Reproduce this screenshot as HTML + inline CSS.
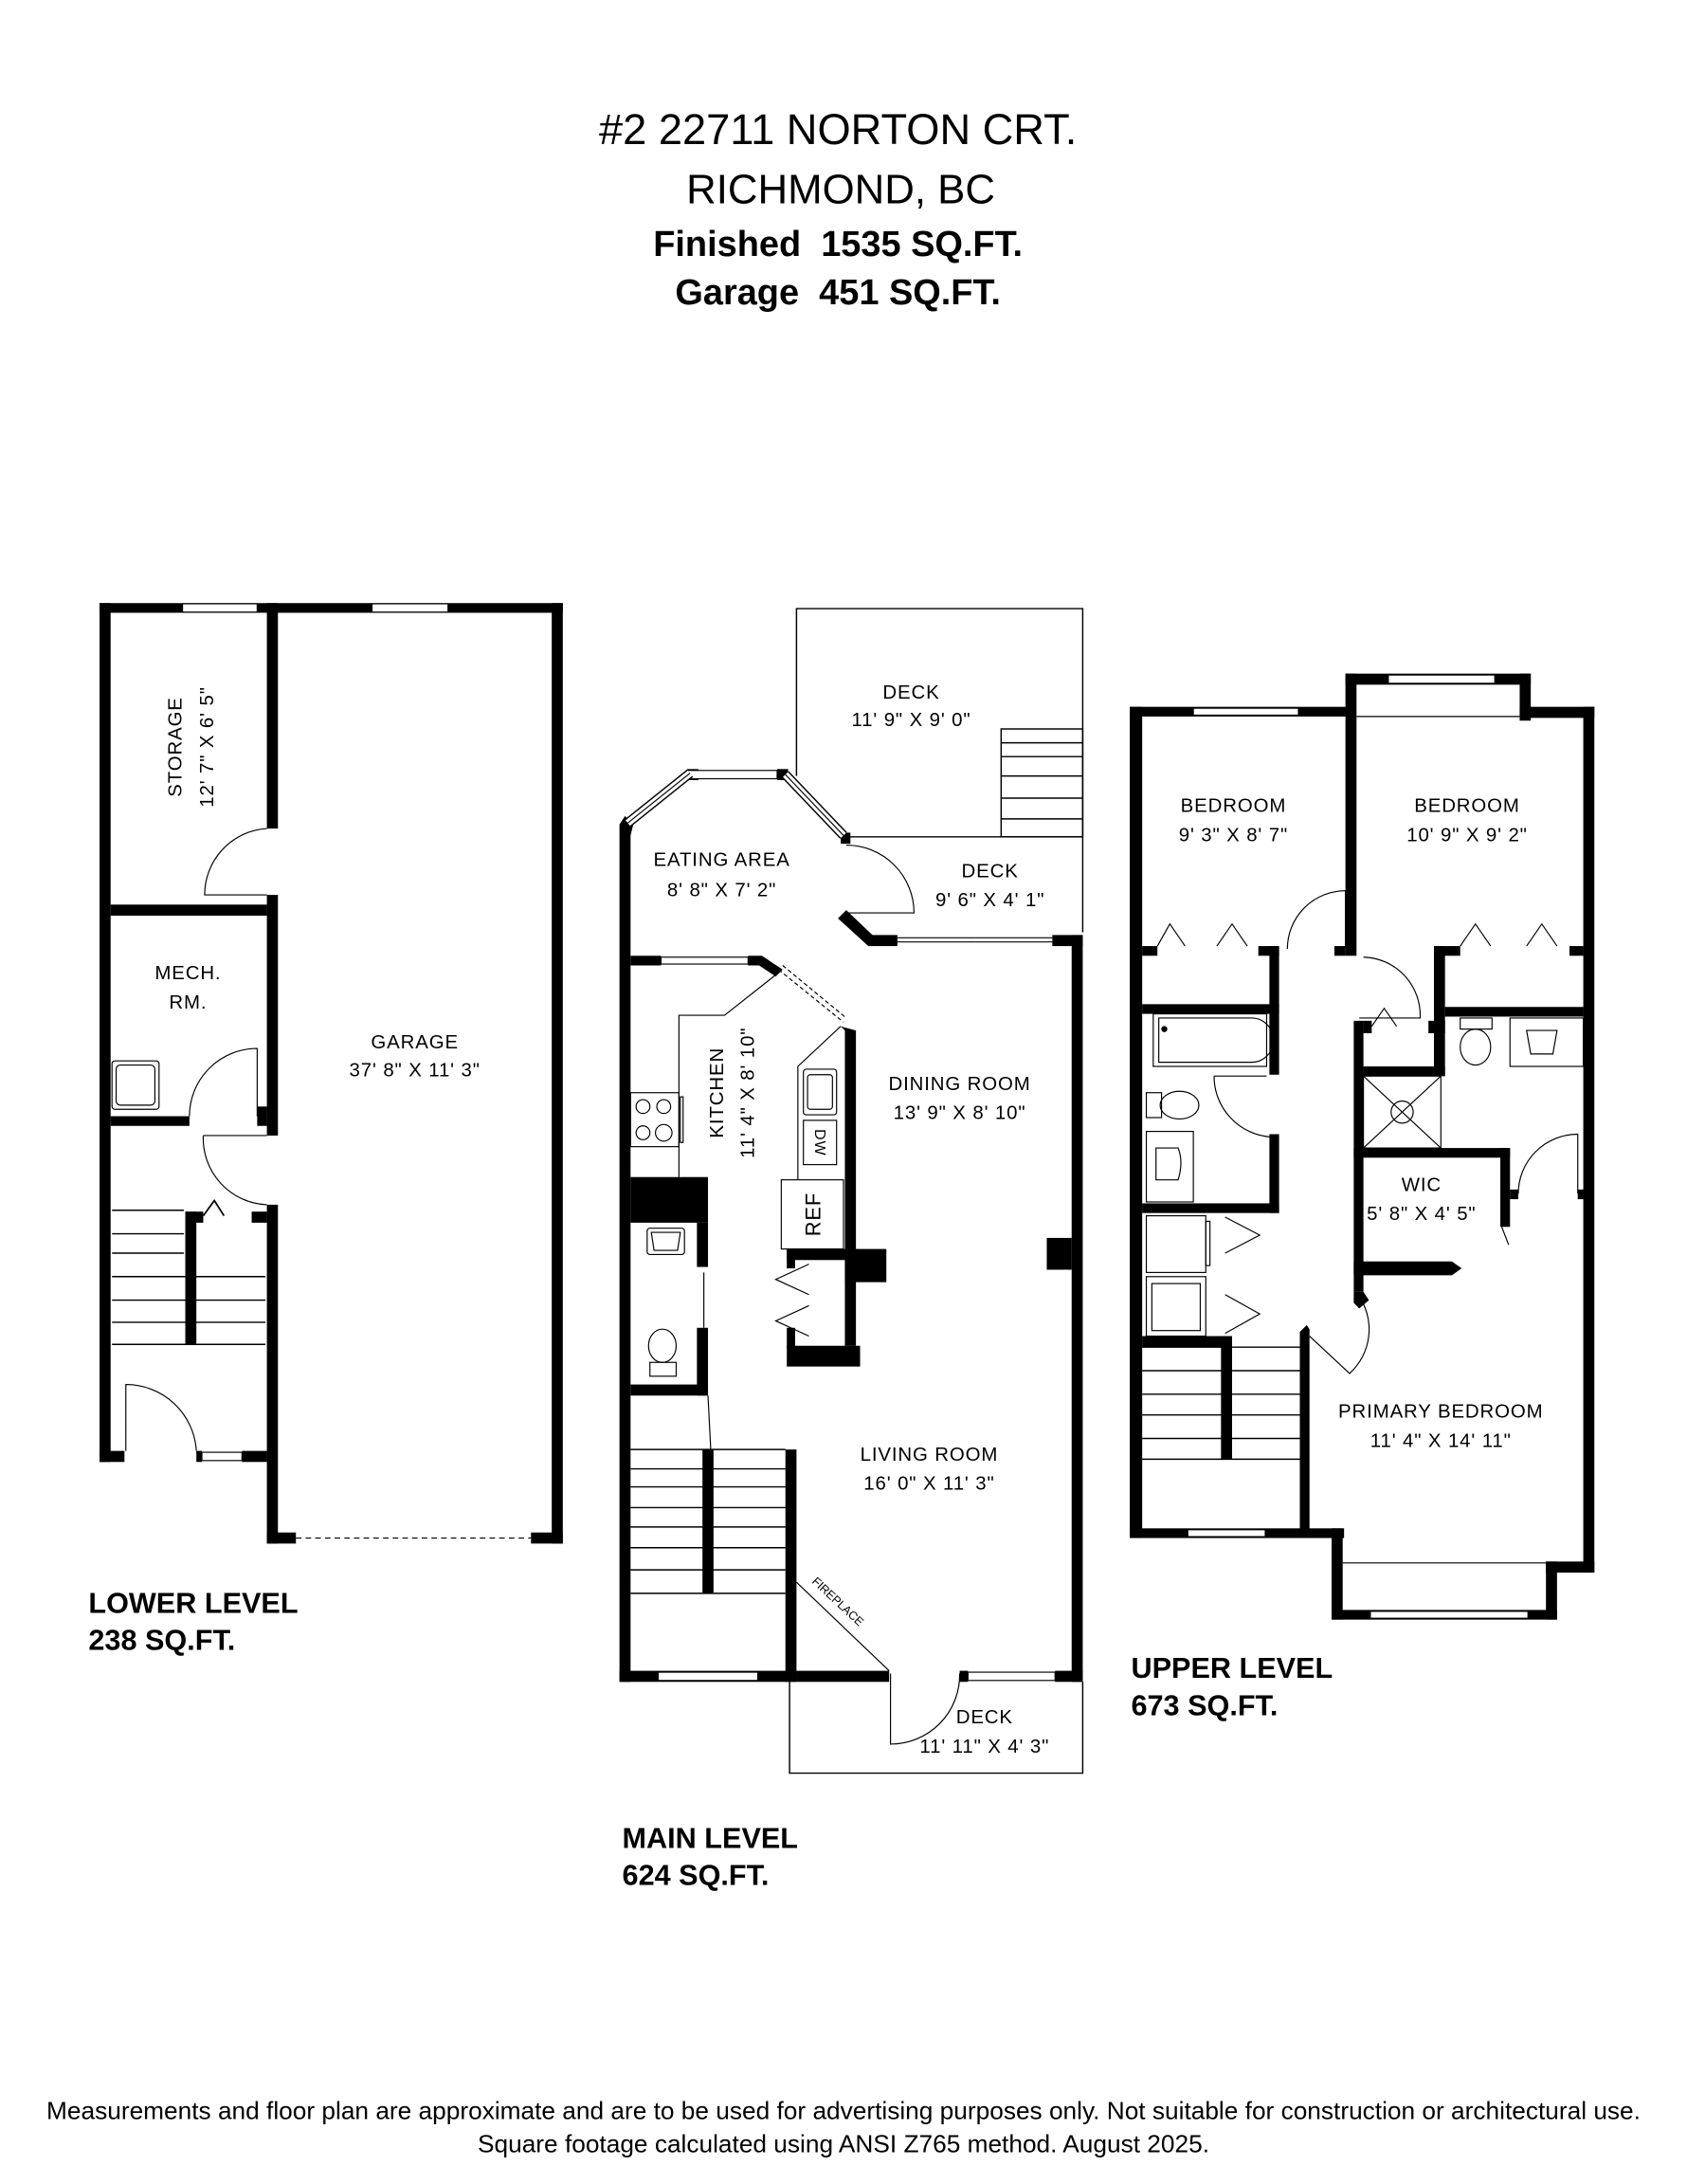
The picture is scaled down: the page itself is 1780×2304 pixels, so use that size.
<!DOCTYPE html>
<html><head><meta charset="utf-8"><style>
html,body{margin:0;padding:0;background:#fff}
svg{display:block}
text{font-family:"Liberation Sans",sans-serif;fill:#000}
.l{font-size:14px;text-anchor:middle;dominant-baseline:central;letter-spacing:0.6px}
.t{font-size:21px;font-weight:bold}
</style></head><body>
<svg width="1780" height="2304" viewBox="0 0 1220 1579" xmlns="http://www.w3.org/2000/svg">
<rect width="1220" height="1579" fill="#fff"/>
<!-- header -->
<text x="606" y="104" text-anchor="middle" font-size="31">#2 22711 NORTON CRT.</text>
<text x="608" y="147" text-anchor="middle" font-size="30">RICHMOND, BC</text>
<text x="606" y="185" text-anchor="middle" font-size="26" font-weight="bold">Finished&#160;&#160;1535 SQ.FT.</text>
<text x="606" y="220" text-anchor="middle" font-size="26" font-weight="bold">Garage&#160;&#160;451 SQ.FT.</text>

<g fill="#000">
<!-- ===== LOWER LEVEL ===== -->
<rect x="72" y="436" width="8" height="621"/>
<rect x="72" y="436" width="335" height="7"/>
<rect x="193" y="436" width="8" height="163"/>
<rect x="193" y="647" width="8" height="174"/>
<rect x="193" y="871" width="8" height="245"/>
<rect x="399" y="436" width="8" height="680"/>
<rect x="80" y="654" width="113" height="8"/>
<rect x="80" y="807" width="57" height="7"/>
<rect x="186" y="800" width="7" height="14"/>
<rect x="72" y="1049" width="18" height="8"/>
<rect x="142" y="1049" width="4" height="8"/>
<rect x="175" y="1049" width="18" height="8"/>
<rect x="193" y="1108" width="21" height="8"/>
<rect x="384" y="1108" width="23" height="8"/>
<rect x="134" y="876" width="8" height="96"/>
<rect x="134" y="876" width="13" height="8"/>
<rect x="182" y="876" width="11" height="8"/>
</g>
<g fill="#fff" stroke="#000" stroke-width="0.8">
<rect x="132" y="436.5" width="54" height="6"/>
<rect x="269" y="436.5" width="55" height="6"/>
<rect x="146" y="1050" width="29" height="6"/>
</g>
<g fill="none" stroke="#000" stroke-width="0.8">
<line x1="214" y1="1112" x2="384" y2="1112" stroke-dasharray="4,3"/>
<path d="M193 599 A48 48 0 0 0 148 647 L193 647"/>
<path d="M137 807 A49 49 0 0 1 186 758 L186 807"/>
<rect x="81" y="767" width="34" height="35" rx="2"/>
<rect x="84" y="770" width="28" height="29" rx="3"/>
<path d="M147 821 L193 821 M147 821 A48 48 0 0 0 193 871"/>
<path d="M91 1049 L91 1001 A51 51 0 0 1 142 1049"/>
<polyline points="147,879 155,868 162,879" stroke-width="1.2"/>
<g stroke-width="1">
<line x1="81" y1="875" x2="133" y2="875"/><line x1="81" y1="892" x2="133" y2="892"/><line x1="81" y1="906" x2="133" y2="906"/>
<line x1="81" y1="923" x2="192" y2="923"/><line x1="81" y1="940" x2="192" y2="940"/><line x1="81" y1="956" x2="192" y2="956"/><line x1="81" y1="972" x2="192" y2="972"/>
</g>
</g>
<text class="l" transform="translate(127 540) rotate(-90)">STORAGE</text>
<text class="l" transform="translate(150 540) rotate(-90)">12' 7" X 6' 5"</text>
<text class="l" x="136" y="704">MECH.</text>
<text class="l" x="136" y="725">RM.</text>
<text class="l" x="300" y="754">GARAGE</text>
<text class="l" x="300" y="774">37' 8" X 11' 3"</text>
<text class="t" x="64" y="1166">LOWER LEVEL</text>
<text class="t" x="64" y="1193">238 SQ.FT.</text>

<!-- ===== MAIN LEVEL ===== -->
<g fill="none" stroke="#000" stroke-width="1">
<polyline points="576,561 576,440 783,440 783,674"/>
<line x1="612" y1="605" x2="783" y2="605"/>
<rect x="724" y="527" width="59" height="78"/>
<line x1="724" y1="547" x2="783" y2="547"/><line x1="724" y1="561" x2="783" y2="561"/><line x1="724" y1="577" x2="783" y2="577"/><line x1="724" y1="592" x2="783" y2="592"/><line x1="724" y1="537" x2="783" y2="537"/>
<polyline points="571,1216 571,1282 783,1282 783,1216"/>
</g>
<g fill="#000">
<rect x="448" y="596" width="8" height="620"/>
<rect x="448" y="1208" width="128" height="8"/>
<rect x="576" y="1208" width="67" height="8"/>
<rect x="694" y="1208" width="6" height="8"/>
<rect x="763" y="1208" width="20" height="8"/>
<rect x="775" y="676" width="8" height="540"/>
<rect x="761" y="676" width="22" height="8"/>
<rect x="628" y="676" width="21" height="8"/>
<polygon points="606,664 612,658 632,677 628,684"/>
<rect x="497" y="556" width="8" height="8"/><rect x="562" y="556" width="8" height="8"/>
<polygon points="448,596 452,590 458,596 456,604"/>
<rect x="608" y="602" width="7" height="8"/>
<rect x="456" y="691" width="22" height="7"/>
<rect x="541" y="691" width="10" height="7"/>
<polygon points="551,691 566,701 561,706 549,698"/>
<polygon points="608,742 619,745 619,973 611,973 611,745"/>
<rect x="611" y="903" width="30" height="24"/>
<rect x="757" y="895" width="18" height="23"/>
<rect x="569" y="973" width="53" height="15"/>
<rect x="569" y="903" width="42" height="8"/>
<rect x="569" y="903" width="6" height="14"/>
<rect x="569" y="960" width="6" height="15"/>
<rect x="456" y="851" width="56" height="33"/>
<rect x="504" y="884" width="8" height="32"/>
<rect x="504" y="960" width="8" height="49"/>
<rect x="456" y="1001" width="56" height="8"/>
<rect x="508" y="1048" width="8" height="104"/>
<rect x="568" y="1048" width="8" height="168"/>
</g>
<g fill="#fff" stroke="#000" stroke-width="0.8">
<rect x="478" y="692" width="63" height="5"/>
<rect x="497" y="557" width="65" height="6"/>
<rect x="476" y="1209" width="72" height="6"/>
<rect x="700" y="1209" width="63" height="6"/>
</g>
<g stroke="#000" fill="none">
<line x1="454" y1="595" x2="499" y2="559" stroke-width="7"/>
<line x1="454" y1="595" x2="499" y2="559" stroke="#fff" stroke-width="5"/>
<line x1="454" y1="595" x2="499" y2="559" stroke-width="0.8"/>
<line x1="568" y1="560" x2="610" y2="604" stroke-width="7"/>
<line x1="568" y1="560" x2="610" y2="604" stroke="#fff" stroke-width="5"/>
<line x1="568" y1="560" x2="610" y2="604" stroke-width="0.8"/>
<g stroke-width="0.8">
<line x1="649" y1="678" x2="705" y2="678"/><line x1="705" y1="681" x2="761" y2="681"/><line x1="649" y1="681" x2="705" y2="681"/><line x1="705" y1="678" x2="761" y2="678"/>
<path d="M612 611 A49 49 0 0 1 661 660 L612 660"/>
<line x1="563" y1="701" x2="610" y2="739" stroke-dasharray="3,2"/>
<line x1="566" y1="698" x2="612" y2="736" stroke-dasharray="3,2"/>
<polyline points="491,851 491,734 524,734 562,704"/>
<polyline points="577,853 577,771 608,742"/>
<rect x="456" y="790" width="35" height="39"/>
<circle cx="465" cy="800" r="5"/><circle cx="480" cy="800" r="5"/><circle cx="465" cy="819" r="5"/><circle cx="480" cy="819" r="6"/>
<rect x="492" y="793" width="2" height="33"/>
<rect x="581" y="773" width="24" height="33" rx="2"/>
<rect x="584" y="777" width="18" height="25" rx="2"/>
<rect x="581" y="810" width="24" height="32"/>
<rect x="565" y="853" width="45" height="50"/>
<rect x="468" y="888" width="27" height="19" rx="2"/>
<path d="M471 891 L492 891 L490 904 L473 904 Z"/>
<ellipse cx="479" cy="973" rx="10" ry="12"/>
<rect x="470" y="985" width="19" height="10"/>
<line x1="509" y1="920" x2="509" y2="960"/>
<line x1="512" y1="1009" x2="514" y2="1048"/>
<polyline points="585,914 561,925 585,936"/>
<polyline points="585,944 561,955 585,966"/>
<path d="M644 1210 L644 1261 A50 50 0 0 0 694 1210"/>
<line x1="576" y1="1144" x2="643" y2="1208"/>
</g>
<g stroke-width="1">
<line x1="456" y1="1048" x2="568" y2="1048"/><line x1="456" y1="1062" x2="568" y2="1062"/><line x1="456" y1="1075" x2="568" y2="1075"/><line x1="456" y1="1090" x2="568" y2="1090"/><line x1="456" y1="1104" x2="568" y2="1104"/><line x1="456" y1="1119" x2="568" y2="1119"/><line x1="456" y1="1135" x2="568" y2="1135"/><line x1="456" y1="1152" x2="568" y2="1152"/>
</g>
</g>
<text transform="translate(604 1160) rotate(43)" text-anchor="middle" style="font-size:8.5px">FIREPLACE</text>
<text class="l" transform="translate(588 878) rotate(-90)" style="font-size:15px">REF</text>
<text class="l" transform="translate(593 826) rotate(90)" style="font-size:11px">DW</text>
<text class="l" x="659" y="501">DECK</text>
<text class="l" x="659" y="521">11' 9" X 9' 0"</text>
<text class="l" x="522" y="622">EATING AREA</text>
<text class="l" x="522" y="644">8' 8" X 7' 2"</text>
<text class="l" x="716" y="630">DECK</text>
<text class="l" x="716" y="651">9' 6" X 4' 1"</text>
<text class="l" transform="translate(519 790) rotate(-90)">KITCHEN</text>
<text class="l" transform="translate(541 790) rotate(-90)">11' 4" X 8' 10"</text>
<text class="l" x="694" y="784">DINING ROOM</text>
<text class="l" x="694" y="805">13' 9" X 8' 10"</text>
<text class="l" x="672" y="1052">LIVING ROOM</text>
<text class="l" x="672" y="1073">16' 0" X 11' 3"</text>
<text class="l" x="712" y="1242">DECK</text>
<text class="l" x="712" y="1263">11' 11" X 4' 3"</text>
<text class="t" x="450" y="1336">MAIN LEVEL</text>
<text class="t" x="450" y="1363">624 SQ.FT.</text>

<!-- ===== UPPER LEVEL ===== -->
<g fill="#000">
<rect x="817" y="511" width="9" height="601"/>
<rect x="817" y="511" width="162" height="7"/>
<rect x="973" y="487" width="8" height="204"/>
<rect x="973" y="487" width="134" height="8"/>
<rect x="1099" y="487" width="8" height="34"/>
<rect x="1099" y="511" width="54" height="8"/>
<rect x="1145" y="511" width="8" height="626"/>
<rect x="826" y="684" width="11" height="7"/>
<rect x="910" y="684" width="15" height="7"/>
<rect x="918" y="684" width="7" height="93"/>
<rect x="826" y="726" width="99" height="7"/>
<rect x="965" y="684" width="8" height="7"/>
<rect x="918" y="820" width="7" height="57"/>
<rect x="826" y="870" width="99" height="7"/>
<rect x="979" y="738" width="7" height="196"/>
<polygon points="979,934 986,934 990,940 983,946 979,942"/>
<rect x="986" y="738" width="6" height="9"/>
<rect x="1033" y="738" width="12" height="9"/>
<rect x="1037" y="684" width="8" height="94"/>
<rect x="1037" y="684" width="19" height="7"/>
<rect x="1135" y="684" width="10" height="7"/>
<rect x="1045" y="728" width="100" height="7"/>
<rect x="986" y="771" width="59" height="7"/>
<rect x="979" y="830" width="113" height="7"/>
<rect x="1085" y="830" width="7" height="57"/>
<rect x="1092" y="860" width="6" height="7"/>
<rect x="1141" y="860" width="5" height="7"/>
<polygon points="979,912 1050,912 1057,917 1050,922 979,922"/>
<rect x="826" y="966" width="63" height="8"/>
<rect x="883" y="966" width="8" height="89"/>
<polygon points="940,963 945,958 947,961 947,1112 940,1112"/>
<rect x="817" y="1105" width="155" height="7"/>
<rect x="963" y="1105" width="8" height="66"/>
<rect x="963" y="1164" width="163" height="7"/>
<rect x="1118" y="1129" width="8" height="42"/>
<rect x="1118" y="1129" width="35" height="8"/>
</g>
<g fill="#fff" stroke="#000" stroke-width="0.8">
<rect x="863" y="512" width="76" height="5"/>
<rect x="1004" y="488" width="77" height="6"/>
<rect x="859" y="1106" width="56" height="5"/>
<rect x="991" y="1165" width="114" height="5"/>
</g>
<g fill="none" stroke="#000" stroke-width="0.8">
<line x1="981" y1="518" x2="1099" y2="518"/>
<line x1="971" y1="1130" x2="1118" y2="1130"/>
<polyline points="837,684 846,668 857,684"/><polyline points="880,684 891,668 902,684"/>
<polyline points="1056,684 1067,668 1078,684"/><polyline points="1104,684 1115,668 1126,684"/>
<polyline points="992,742 1001,729 1010,742"/>
<path d="M931 686 A42 42 0 0 1 973 644 L973 686"/>
<path d="M986 692 A42 42 0 0 1 1027 736 L983 736"/>
<rect x="834" y="733" width="82" height="38"/>
<path d="M838 736 L905 736 A16 16 0 0 1 905 768 L838 768 Z"/>
<circle cx="842" cy="744" r="1.8" fill="#000"/>
<rect x="829" y="790" width="11" height="18"/>
<ellipse cx="853" cy="799" rx="14" ry="10"/>
<rect x="829" y="818" width="34" height="51"/>
<path d="M836 830 L852 830 Q856 840 852 853 L836 853 Z"/>
<path d="M878 778 L916 778 M878 778 A44 44 0 0 0 919 822"/>
<rect x="829" y="879" width="43" height="41"/><rect x="872" y="883" width="3" height="32"/>
<rect x="829" y="923" width="43" height="43"/><rect x="833" y="928" width="35" height="34"/>
<polyline points="886,880 911,893 886,906"/>
<polyline points="886,936 911,950 886,964"/>
<rect x="986" y="778" width="56" height="52"/>
<line x1="986" y1="778" x2="1042" y2="830"/>
<line x1="1042" y1="778" x2="986" y2="830"/>
<circle cx="1014" cy="804" r="8"/>
<rect x="1056" y="736" width="23" height="8"/>
<ellipse cx="1067" cy="757" rx="11" ry="13"/>
<rect x="1092" y="736" width="53" height="35"/>
<path d="M1104 745 L1126 745 L1123 762 L1107 762 Z"/>
<path d="M1098 863 A43 43 0 0 1 1141 820 L1141 863"/>
<line x1="1086" y1="887" x2="1091" y2="900"/>
<path d="M947 966 L976 993 A43 43 0 0 0 982 936"/>
<g stroke-width="1">
<line x1="826" y1="974" x2="940" y2="974"/><line x1="826" y1="991" x2="940" y2="991"/><line x1="826" y1="1008" x2="940" y2="1008"/><line x1="826" y1="1023" x2="940" y2="1023"/><line x1="826" y1="1040" x2="940" y2="1040"/><line x1="826" y1="1055" x2="940" y2="1055"/>
</g>
</g>
<text class="l" x="892" y="583">BEDROOM</text>
<text class="l" x="892" y="604">9' 3" X 8' 7"</text>
<text class="l" x="1061" y="583">BEDROOM</text>
<text class="l" x="1061" y="604">10' 9" X 9' 2"</text>
<text class="l" x="1028" y="857">WIC</text>
<text class="l" x="1028" y="878">5' 8" X 4' 5"</text>
<text class="l" x="1042" y="1021">PRIMARY BEDROOM</text>
<text class="l" x="1042" y="1042">11' 4" X 14' 11"</text>
<text class="t" x="818" y="1213">UPPER LEVEL</text>
<text class="t" x="818" y="1240">673 SQ.FT.</text>

<text x="610" y="1532" text-anchor="middle" font-size="18">Measurements and floor plan are approximate and are to be used for advertising purposes only. Not suitable for construction or architectural use.</text>
<text x="610" y="1556" text-anchor="middle" font-size="18">Square footage calculated using ANSI Z765 method. August 2025.</text>
</svg>
</body></html>
